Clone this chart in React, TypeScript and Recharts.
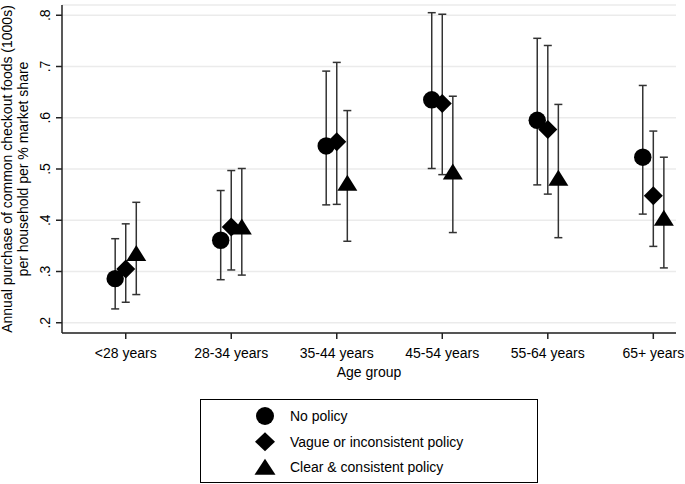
import React from 'react';
import {
  ComposedChart,
  Scatter,
  XAxis,
  YAxis,
  CartesianGrid,
  ErrorBar,
  Legend,
  Label,
} from 'recharts';

// ---------- data ----------
const categories = ['<28 years', '28-34 years', '35-44 years', '45-54 years', '55-64 years', '65+ years'];
const yTicks = [0.2, 0.3, 0.4, 0.5, 0.6, 0.7, 0.8];
const yTickLabels = ['.2', '.3', '.4', '.5', '.6', '.7', '.8'];

const seriesNames = ['No policy', 'Vague or inconsistent policy', 'Clear & consistent policy'];

const noPolicyMean = [0.286, 0.361, 0.545, 0.635, 0.595, 0.523];
const noPolicyLow = [0.227, 0.284, 0.430, 0.501, 0.469, 0.412];
const noPolicyHigh = [0.364, 0.458, 0.691, 0.805, 0.755, 0.663];

const vagueMean = [0.305, 0.387, 0.553, 0.628, 0.577, 0.448];
const vagueLow = [0.240, 0.303, 0.431, 0.489, 0.451, 0.349];
const vagueHigh = [0.393, 0.497, 0.708, 0.802, 0.741, 0.574];

const clearMean = [0.336, 0.388, 0.473, 0.495, 0.483, 0.405];
const clearLow = [0.255, 0.293, 0.359, 0.376, 0.366, 0.307];
const clearHigh = [0.435, 0.501, 0.614, 0.642, 0.626, 0.523];

// ---------- layout constants ----------
const W = 685;
const H = 484;
const DODGE = 0.1;
const FONT = '"Liberation Sans", Arial, Helvetica, sans-serif';
const INK = '#000';
const BAR = '#333';

const build = (mean: number[], low: number[], high: number[], offset: number) =>
  categories.map((c, i) => ({
    name: c,
    x: i + 1 + offset,
    y: mean[i],
    err: [mean[i] - low[i], high[i] - mean[i]],
  }));

const noPolicyData = build(noPolicyMean, noPolicyLow, noPolicyHigh, -DODGE);
const vagueData = build(vagueMean, vagueLow, vagueHigh, 0);
const clearData = build(clearMean, clearLow, clearHigh, DODGE);

// ---------- markers ----------
const CircleMark = (p: any) => <circle cx={p.cx} cy={p.cy} r={8.7} fill={INK} />;
const DiamondMark = (p: any) => (
  <polygon
    points={`${p.cx},${p.cy - 9.5} ${p.cx + 9.5},${p.cy} ${p.cx},${p.cy + 9.5} ${p.cx - 9.5},${p.cy}`}
    fill={INK}
  />
);
const TriangleMark = (p: any) => (
  <polygon
    points={`${p.cx - 10},${p.cy + 8} ${p.cx + 10},${p.cy + 8} ${p.cx},${p.cy - 8}`}
    fill={INK}
  />
);

const XTick = (p: any) => {
  const idx = Math.round(p.payload.value) - 1;
  return (
    <text x={p.x} y={p.y + 17} textAnchor="middle" fontSize={14} fontFamily={FONT} fill={INK}>
      {categories[idx]}
    </text>
  );
};

const YTick = (p: any) => {
  const i = yTicks.findIndex((t) => Math.abs(t - p.payload.value) < 1e-6);
  const x = p.x - 4;
  return (
    <text
      x={x}
      y={p.y}
      transform={`rotate(-90 ${x} ${p.y})`}
      textAnchor="middle"
      fontSize={14}
      fontFamily={FONT}
      fill={INK}
    >
      {i >= 0 ? yTickLabels[i] : ''}
    </text>
  );
};

const YTitle = () => (
  <g>
    <text x={12} y={169} transform="rotate(-90 12 169)" textAnchor="middle" fontSize={14} fontFamily={FONT} fill={INK}>
      Annual purchase of common checkout foods (1000s)
    </text>
    <text x={28} y={169} transform="rotate(-90 28 169)" textAnchor="middle" fontSize={14} fontFamily={FONT} fill={INK}>
      per household per % market share
    </text>
  </g>
);

const XTitle = () => (
  <text x={369} y={377} textAnchor="middle" fontSize={14} fontFamily={FONT} fill={INK}>
    Age group
  </text>
);

const LegendBox = () => {
  const marks = [
    (cx: number, cy: number) => <circle cx={cx} cy={cy} r={9} fill={INK} />,
    (cx: number, cy: number) => (
      <polygon points={`${cx},${cy - 9.5} ${cx + 10},${cy} ${cx},${cy + 9.5} ${cx - 10},${cy}`} fill={INK} />
    ),
    (cx: number, cy: number) => (
      <polygon points={`${cx - 10.5},${cy + 8} ${cx + 10.5},${cy + 8} ${cx},${cy - 8}`} fill={INK} />
    ),
  ];
  const rowsY = [17, 42.7, 67.7];
  return (
    <div style={{ width: 338, height: 84, border: '1px solid #000', boxSizing: 'border-box', background: '#fff' }}>
      <svg width={336} height={82} style={{ display: 'block' }}>
        {seriesNames.map((n, i) => (
          <g key={n}>
            {marks[i](64, rowsY[i] - 1)}
            <text x={89} y={rowsY[i] + 4} fontSize={14} fontFamily={FONT} fill={INK}>
              {n}
            </text>
          </g>
        ))}
      </svg>
    </div>
  );
};

export default function App() {
  return (
    <div style={{ position: 'absolute', left: 0, top: 0, width: W, height: H, background: '#fff' }}>
      <ComposedChart width={W} height={H} margin={{ top: 5, right: 9, left: 0, bottom: 0 }}>
        <CartesianGrid vertical={false} stroke="#ebebeb" strokeWidth={1.5} />
        <XAxis
          type="number"
          dataKey="x"
          domain={[0.396, 6.215]}
          ticks={[1, 2, 3, 4, 5, 6]}
          interval={0}
          allowDataOverflow
          height={151}
          tickSize={6}
          tickMargin={2}
          axisLine={{ stroke: '#222', strokeWidth: 1.5 }}
          tickLine={{ stroke: '#222', strokeWidth: 1.5 }}
          tick={<XTick />}
        >
          <Label content={<XTitle />} />
        </XAxis>
        <YAxis
          type="number"
          dataKey="y"
          domain={[0.18, 0.82]}
          ticks={yTicks}
          interval={0}
          allowDataOverflow
          width={62}
          tickSize={6}
          tickMargin={2}
          axisLine={{ stroke: '#222', strokeWidth: 1.5 }}
          tickLine={{ stroke: '#222', strokeWidth: 1.5 }}
          tick={<YTick />}
        >
          <Label content={<YTitle />} />
        </YAxis>
        <Scatter name={seriesNames[0]} data={noPolicyData} shape={<CircleMark />} isAnimationActive={false}>
          <ErrorBar dataKey="err" direction="y" width={4} stroke={BAR} strokeWidth={1.5} />
        </Scatter>
        <Scatter name={seriesNames[1]} data={vagueData} shape={<DiamondMark />} isAnimationActive={false}>
          <ErrorBar dataKey="err" direction="y" width={4} stroke={BAR} strokeWidth={1.5} />
        </Scatter>
        <Scatter name={seriesNames[2]} data={clearData} shape={<TriangleMark />} isAnimationActive={false}>
          <ErrorBar dataKey="err" direction="y" width={4} stroke={BAR} strokeWidth={1.5} />
        </Scatter>
        <Legend
          layout="horizontal"
          verticalAlign="middle"
          align="center"
          wrapperStyle={{ left: 200, top: 399, width: 338, height: 84, right: 'auto', bottom: 'auto' }}
          content={<LegendBox />}
        />
      </ComposedChart>
    </div>
  );
}
